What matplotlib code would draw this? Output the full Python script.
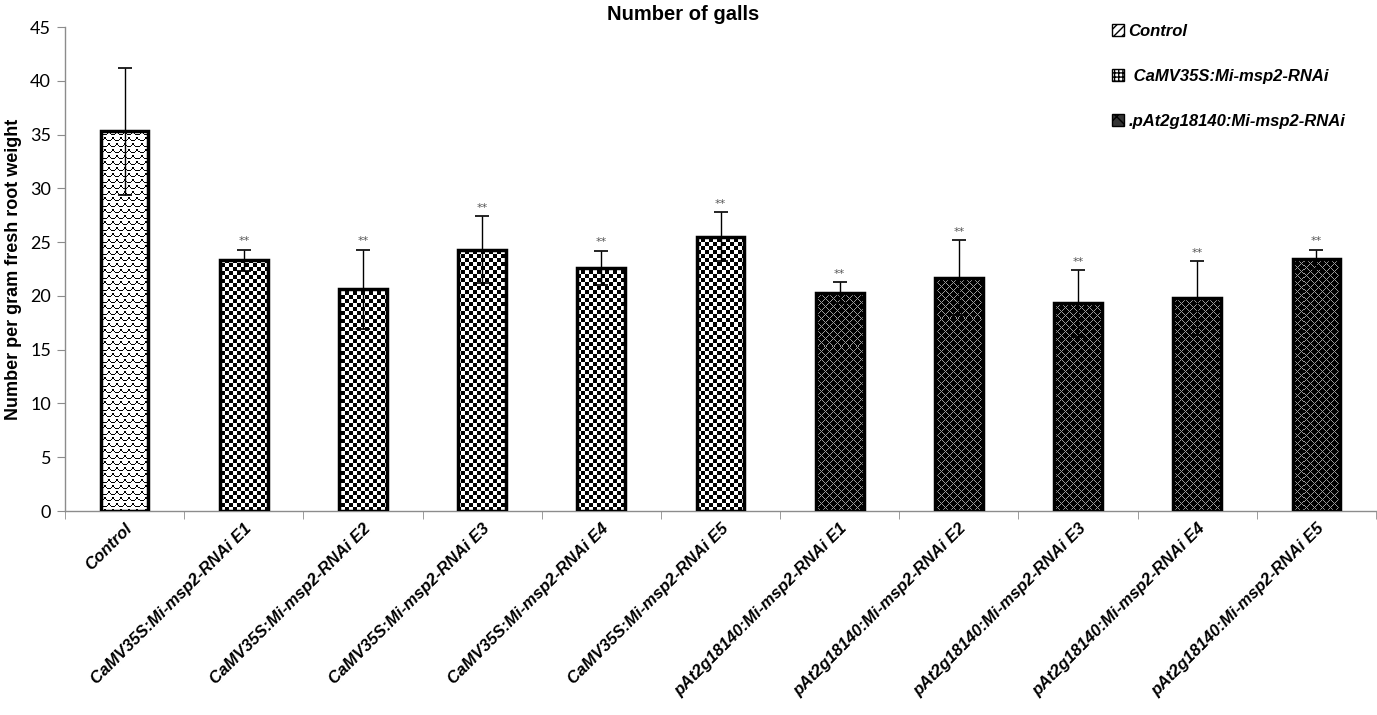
import numpy as np
import matplotlib
matplotlib.use("Agg")
import matplotlib.pyplot as plt
from matplotlib.patches import Patch

categories = ["Control",
              "CaMV35S:Mi-msp2-RNAi E1", "CaMV35S:Mi-msp2-RNAi E2", "CaMV35S:Mi-msp2-RNAi E3",
              "CaMV35S:Mi-msp2-RNAi E4", "CaMV35S:Mi-msp2-RNAi E5",
              "pAt2g18140:Mi-msp2-RNAi E1", "pAt2g18140:Mi-msp2-RNAi E2", "pAt2g18140:Mi-msp2-RNAi E3",
              "pAt2g18140:Mi-msp2-RNAi E4", "pAt2g18140:Mi-msp2-RNAi E5"]
values = [35.3, 23.3, 20.6, 24.3, 22.6, 25.5, 20.3, 21.7, 19.3, 19.8, 23.4]
errors = [5.9, 1.0, 3.7, 3.1, 1.6, 2.3, 1.0, 3.5, 3.1, 3.4, 0.9]
groups = ["control"] + ["camv"] * 5 + ["pat"] * 5
signif = [""] + ["**"] * 10
legend_labels = ["Control", " CaMV35S:Mi-msp2-RNAi", ".pAt2g18140:Mi-msp2-RNAi"]
yticks = [0, 5, 10, 15, 20, 25, 30, 35, 40, 45]

W, H = 1377, 715
fig = plt.figure(figsize=(W / 100, H / 100), dpi=100)
L, R, B, T = 65 / W, 1376 / W, 1 - 511 / H, 1 - 27 / H
ax = fig.add_axes([L, B, R - L, T - B])
ax.set_xlim(-0.5, len(categories) - 0.5)
ax.set_ylim(0, 45)

# pixel textures
pw, ph = int(round((R - L) * W)), int(round((T - B) * H))
X, Y = np.meshgrid(np.arange(pw), np.arange(ph))

checker = ((X // 4 + Y // 4) % 2).astype(float)  # 1 white, 0 black
pat = np.zeros((ph, pw))
lines = ((X + Y) % 8 == 0) | ((X - Y) % 8 == 0)
pat[lines] = 0.6
# scales
cw, chh = 8, 6
row = Y // chh
u = (X + (row % 2) * 4) % cw
v = Y % chh
r = np.sqrt((u - 3.5) ** 2 + (v - 1) ** 2)
scales = np.ones((ph, pw))
scales[(np.abs(r - 4) < 0.5) & (v >= 1)] = 0.0

textures = {"control": scales, "camv": checker, "pat": pat}

x = np.arange(len(categories))
bars = ax.bar(x, values, width=0.4, facecolor="none", edgecolor="black", linewidth=2.5, zorder=3)
for bar, g in zip(bars, groups):
    im = ax.imshow(textures[g], cmap="gray", vmin=0, vmax=1, extent=(-0.5, len(categories) - 0.5, 0, 45),
                   origin="upper", interpolation="nearest", aspect="auto", zorder=2)
    im.set_clip_path(bar)
ax.set_aspect("auto")

ax.errorbar(x, values, yerr=errors, fmt="none", ecolor="black", elinewidth=1, capsize=5, capthick=1.2, zorder=4)
for xi, v_, e, s in zip(x, values, errors, signif):
    if s:
        ax.text(xi, v_ + e + 0.3, s, ha="center", va="bottom", fontsize=8, color="#555555", zorder=5)

for sp in ["top", "right"]:
    ax.spines[sp].set_visible(False)
for sp in ["left", "bottom"]:
    ax.spines[sp].set_color("#8c8c8c")
    ax.spines[sp].set_linewidth(1)

ax.set_yticks(yticks)
ax.set_yticklabels([str(t) for t in yticks], fontfamily="Lato", fontsize=13)
ax.tick_params(axis="y", direction="out", length=6, color="#8c8c8c", pad=4)
ax.set_xticks(x)
ax.set_xticklabels(categories, rotation=45, ha="right", va="top", rotation_mode="anchor",
                   fontfamily="Liberation Sans", fontweight="bold", fontstyle="italic", fontsize=12)
ax.tick_params(axis="x", length=0, pad=7)
ax.set_xticks(np.arange(-0.5, len(categories), 1), minor=True)
ax.tick_params(axis="x", which="minor", direction="out", length=6, color="#8c8c8c")

ax.set_ylabel("Number per gram fresh root weight", fontfamily="Liberation Sans", fontweight="bold",
              fontsize=13, labelpad=6)
fig.text(683 / W, 1 - 15 / H, "Number of galls", ha="center", va="center",
         fontfamily="Liberation Sans", fontweight="bold", fontsize=14.5)

handles = [Patch(facecolor="white", edgecolor="black", hatch="////", linewidth=1),
           Patch(facecolor="white", edgecolor="black", hatch="++++", linewidth=1),
           Patch(facecolor="#333333", edgecolor="black", hatch="xx", linewidth=1)]
leg = fig.legend(handles, legend_labels, loc="upper left", bbox_to_anchor=(1097 / W, 1 - 9 / H),
                 frameon=False, handlelength=0.7, handleheight=0.7, handletextpad=0.3,
                 labelspacing=1.8, prop={"family": "Liberation Sans", "weight": "bold",
                                         "style": "italic", "size": 12})

fig.savefig("out.png", dpi=100)
